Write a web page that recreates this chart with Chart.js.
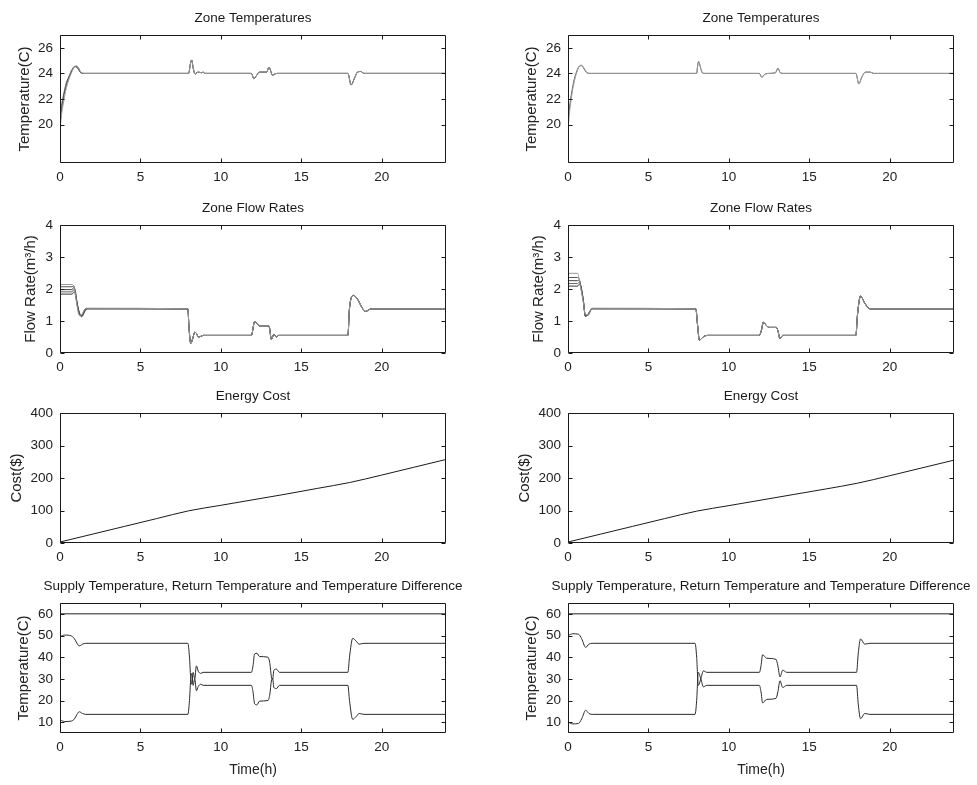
<!DOCTYPE html>
<html>
<head>
<meta charset="utf-8">
<script src="https://cdn.jsdelivr.net/npm/chart.js@4.4.0/dist/chart.umd.min.js"></script>
<style>
  body { margin: 0; background: #fff; }
  #page { position: relative; width: 977px; height: 785px; overflow: hidden; background: #fff; }
  #page canvas { position: absolute; }
</style>
</head>
<body>
<div id="page"></div>
<script>
// ---- tick labels ----
const timeTicks = [0, 5, 10, 15, 20];
const tempTicks = [20, 22, 24, 26];
const flowTicks = [0, 1, 2, 3, 4];
const costTicks = [0, 100, 200, 300, 400];
const supplyTicks = [10, 20, 30, 40, 50, 60];

// ---- zone temperatures, left ----
const tTempL = [0, 0.1, 0.2, 0.3, 0.4, 0.5, 0.6, 0.7, 0.8, 0.9, 1.0, 1.1, 1.2, 1.3, 1.5,
  8.0, 8.1, 8.18, 8.3, 8.4, 8.5, 8.6, 8.8, 8.9, 9.0,
  11.9, 12.05, 12.2, 12.4, 12.7, 12.85, 13.0, 13.1, 13.2, 13.35, 13.5,
  17.9, 18.1, 18.3, 18.5, 18.7, 18.9, 24];
const tempL1 = [20.5, 21.5, 22.2, 22.8, 23.3, 23.6, 23.9, 24.2, 24.4, 24.55, 24.5, 24.4, 24.2, 24.05, 24.0,
  24.0, 24.7, 25.05, 24.3, 23.95, 24.05, 24.1, 24.05, 24.1, 24.0,
  24.0, 23.6, 23.8, 24.1, 24.1, 24.1, 24.5, 24.2, 23.85, 23.95, 24.0,
  24.0, 23.1, 23.6, 24.1, 24.15, 24.0, 24.0];
const tempL2 = [20.0, 21.2, 22.0, 22.6, 23.1, 23.5, 23.8, 24.1, 24.35, 24.5, 24.55, 24.45, 24.25, 24.05, 24.0,
  24.0, 24.7, 25.05, 24.3, 23.95, 24.05, 24.1, 24.05, 24.1, 24.0,
  24.0, 23.6, 23.8, 24.1, 24.1, 24.1, 24.5, 24.2, 23.85, 23.95, 24.0,
  24.0, 23.1, 23.6, 24.1, 24.15, 24.0, 24.0];
const tempL3 = [19.5, 20.8, 21.6, 22.3, 22.9, 23.3, 23.7, 24.0, 24.3, 24.5, 24.6, 24.55, 24.35, 24.1, 24.0,
  24.0, 24.7, 25.05, 24.3, 23.95, 24.05, 24.1, 24.05, 24.1, 24.0,
  24.0, 23.6, 23.8, 24.1, 24.1, 24.1, 24.5, 24.2, 23.85, 23.95, 24.0,
  24.0, 23.1, 23.6, 24.1, 24.15, 24.0, 24.0];

// ---- zone temperatures, right ----
const tTempR = [0, 0.1, 0.2, 0.3, 0.4, 0.5, 0.6, 0.7, 0.8, 0.9, 1.0, 1.1, 1.2, 1.4,
  8.0, 8.05, 8.12, 8.25, 8.35, 8.5, 8.7,
  11.9, 12.05, 12.25, 12.5, 12.9, 13.05, 13.2, 13.4,
  17.9, 18.08, 18.3, 18.5, 18.8, 19.0, 24];
const tempR1 = [20.2, 21.4, 22.3, 23.0, 23.6, 24.0, 24.35, 24.55, 24.6, 24.55, 24.35, 24.15, 24.03, 24.0,
  24.0, 24.5, 24.93, 24.4, 24.05, 24.0, 24.0,
  24.0, 23.7, 23.95, 24.0, 24.05, 24.4, 24.05, 24.0,
  24.0, 23.2, 23.8, 24.1, 24.1, 24.0, 24.0];
const tempR2 = [19.7, 21.0, 22.0, 22.8, 23.4, 23.9, 24.3, 24.55, 24.65, 24.6, 24.4, 24.2, 24.05, 24.0,
  24.0, 24.5, 24.93, 24.4, 24.05, 24.0, 24.0,
  24.0, 23.7, 23.95, 24.0, 24.05, 24.4, 24.05, 24.0,
  24.0, 23.2, 23.8, 24.1, 24.1, 24.0, 24.0];

// ---- zone flow rates, left ----
const tFlowL = [0, 0.75, 0.85, 0.95, 1.05, 1.2, 1.35, 1.55, 1.7,
  7.95, 8.02, 8.13, 8.25, 8.38, 8.5, 8.6, 8.75, 8.9,
  11.9, 12.1, 12.25, 12.4, 12.93, 13.02, 13.14, 13.3, 13.45, 13.6,
  17.9, 18.0, 18.25, 18.5, 18.8, 19.0, 19.35, 24];
const flowTail = [1.38, 0.8, 0.3, 0.45, 0.65, 0.6, 0.5, 0.52, 0.55,
  0.55, 0.98, 0.92, 0.85, 0.85, 0.8, 0.43, 0.58, 0.5, 0.55,
  0.55, 1.4, 1.8, 1.68, 1.4, 1.3, 1.38, 1.38];
const flowL1 = [2.14, 2.14, 2.08, 1.85, 1.5, 1.18, 1.2, 1.38, 1.4].concat(flowTail);
const flowL2 = [2.07, 2.07, 2.1, 1.9, 1.55, 1.2, 1.17, 1.35, 1.39].concat(flowTail);
const flowL3 = [1.98, 1.98, 2.05, 1.95, 1.6, 1.22, 1.15, 1.33, 1.39].concat(flowTail);
const flowL4 = [1.91, 1.91, 1.98, 1.9, 1.62, 1.25, 1.13, 1.3, 1.38].concat(flowTail);
const flowL5 = [1.84, 1.84, 1.9, 1.85, 1.58, 1.28, 1.15, 1.32, 1.38].concat(flowTail);

// ---- zone flow rates, right ----
const tFlowR = [0, 0.6, 0.7, 0.8, 0.95, 1.08, 1.25, 1.5,
  7.95, 8.05, 8.17, 8.3, 8.45, 8.7,
  11.9, 12.02, 12.15, 12.35, 12.5, 12.95, 13.05, 13.18, 13.35,
  17.9, 18.0, 18.19, 18.46, 18.77, 24];
const flowTailR = [1.38, 0.9, 0.4, 0.45, 0.52, 0.55,
  0.55, 0.7, 0.96, 0.85, 0.8, 0.8, 0.7, 0.45, 0.55,
  0.55, 1.2, 1.78, 1.55, 1.38, 1.38];
const flowR1 = [2.49, 2.49, 2.3, 2.0, 1.6, 1.2, 1.2, 1.4].concat(flowTailR);
const flowR2 = [2.36, 2.36, 2.3, 2.05, 1.62, 1.18, 1.18, 1.39].concat(flowTailR);
const flowR3 = [2.26, 2.26, 2.28, 2.1, 1.65, 1.15, 1.2, 1.39].concat(flowTailR);
const flowR4 = [2.17, 2.17, 2.22, 2.1, 1.68, 1.14, 1.22, 1.38].concat(flowTailR);
const flowR5 = [2.09, 2.09, 2.15, 2.05, 1.65, 1.16, 1.22, 1.38].concat(flowTailR);

// ---- energy cost ----
const tCost = [0, 2, 4, 6, 8, 10, 12, 14, 16, 18, 20, 22, 24];
const costL = [3, 27, 51, 75, 99, 116, 133, 150, 168, 186, 209, 233, 257];
const costR = [3, 27, 51, 75, 98, 115, 132, 149, 166, 184, 207, 231, 255];

// ---- supply / return / difference ----
const tFlat = [0, 24];
const supplyTemp = [60, 60];
const tSupL = [0, 0.3, 0.7, 0.9, 1.05, 1.2, 1.4, 1.6,
  7.95, 8.05, 8.12, 8.2, 8.28, 8.38, 8.48, 8.6, 8.75, 8.9,
  11.9, 12.0, 12.1, 12.25, 12.4, 12.93, 13.05, 13.14, 13.22, 13.3, 13.45, 13.65,
  17.9, 18.0, 18.2, 18.4, 18.6, 18.9, 24];
const returnL = [49.5, 50.2, 49.8, 48.5, 46.5, 45.2, 46.0, 46.4,
  46.4, 40, 31, 27.5, 33, 30, 36, 33.5, 32.5, 33,
  33, 36, 41.5, 41.8, 40.3, 40, 37, 31, 29.8, 34, 34.5, 33,
  33, 40, 48.7, 47.5, 46, 46.4, 46.4];
const diffL = [11.0, 10.3, 10.5, 11.5, 13.5, 14.8, 14.0, 13.6,
  13.6, 20, 29, 32.5, 27, 30, 24.5, 26.5, 27.5, 27,
  27, 24, 18.5, 18, 19.7, 20, 23, 29, 30.2, 26, 25.5, 27,
  27, 20, 11.3, 12.5, 14, 13.6, 13.6];
const tSupR = [0, 0.3, 0.65, 0.85, 1.1, 1.3, 1.5,
  7.9, 8.0, 8.1, 8.26, 8.42, 8.63,
  11.9, 12.0, 12.1, 12.35, 12.93, 13.05, 13.18, 13.35, 13.6,
  17.94, 18.05, 18.19, 18.45, 18.77, 24];
const returnR = [50, 50.8, 50.6, 48.5, 44.5, 46, 46.4,
  46.4, 40, 27, 30, 33.7, 33,
  33, 36, 41.1, 39.5, 39, 36, 30.9, 34, 33,
  33, 42, 48.4, 46, 46.4, 46.4];
const diffR = [10, 9.2, 9.4, 11.5, 15.5, 14, 13.6,
  13.6, 20, 33, 30, 26.3, 27,
  27, 24, 18.9, 20.5, 21, 24, 29.1, 26, 27,
  27, 18, 11.6, 14, 13.6, 13.6];

// ---- layout ----
const FONT = "'Liberation Sans', Arial, sans-serif";
const plotW = 386;
const colLeft = [60, 568];
const rows = [
  { top: 35, h: 128 },
  { top: 225, h: 128 },
  { top: 413, h: 130 },
  { top: 603, h: 130 },
];
const padTop = 34;
const padRight = 23;

const zip = (t, v) => t.map((x, i) => ({ x: x, y: v[i] }));
// first dataset is drawn on top, so the light grey settled line goes first
const zoneGreys = ["#9a9a9a", "#555", "#444", "#666", "#3a3a3a"];

// matlab-like box, inward ticks and centred title
const matlabFrame = {
  id: "matlabFrame",
  afterDatasetsDraw(chart, args, opts) {
    const { ctx, chartArea: a, scales } = chart;
    const L = Math.round(a.left) + 0.5, R = Math.round(a.right) - 0.5;
    const T = Math.round(a.top) + 0.5, B = Math.round(a.bottom) - 0.5;
    ctx.save();
    ctx.strokeStyle = "#1a1a1a";
    ctx.lineWidth = 1;
    ctx.beginPath();
    ctx.rect(L, T, R - L, B - T);
    scales.x.ticks.forEach((t) => {
      const px = Math.round(scales.x.getPixelForValue(t.value)) + 0.5;
      ctx.moveTo(px, B); ctx.lineTo(px, B - 4);
      ctx.moveTo(px, T); ctx.lineTo(px, T + 4);
    });
    scales.y.ticks.forEach((t) => {
      const py = Math.round(scales.y.getPixelForValue(t.value)) + 0.5;
      ctx.moveTo(L, py); ctx.lineTo(L + 4, py);
      ctx.moveTo(R, py); ctx.lineTo(R - 4, py);
    });
    ctx.stroke();
    ctx.fillStyle = "#1a1a1a";
    ctx.font = "13.5px " + FONT;
    ctx.textAlign = "center";
    ctx.textBaseline = "middle";
    ctx.fillText(opts.text, (a.left + a.right) / 2, a.top - 17);
    ctx.restore();
  },
};

const panels = [
  { col: 0, row: 0, title: "Zone Temperatures", yTitle: "Temperature(C)", yMin: 17, yMax: 27, yTicks: tempTicks, yw: 44,
    series: [[tTempL, tempL3, "#9a9a9a"], [tTempL, tempL1, "#555"], [tTempL, tempL2, "#3a3a3a"]] },
  { col: 1, row: 0, title: "Zone Temperatures", yTitle: "Temperature(C)", yMin: 17, yMax: 27, yTicks: tempTicks, yw: 45,
    series: [[tTempR, tempR2, "#9a9a9a"], [tTempR, tempR1, "#555"]] },
  { col: 0, row: 1, title: "Zone Flow Rates", yTitle: "Flow Rate(m\u00b3/h)", yMin: 0, yMax: 4, yTicks: flowTicks, yw: 38,
    series: [flowL1, flowL2, flowL3, flowL4, flowL5].map((v, i) => [tFlowL, v, zoneGreys[i]]) },
  { col: 1, row: 1, title: "Zone Flow Rates", yTitle: "Flow Rate(m\u00b3/h)", yMin: 0, yMax: 4, yTicks: flowTicks, yw: 38,
    series: [flowR1, flowR2, flowR3, flowR4, flowR5].map((v, i) => [tFlowR, v, zoneGreys[i]]) },
  { col: 0, row: 2, title: "Energy Cost", yTitle: "Cost($)", yMin: 0, yMax: 400, yTicks: costTicks, yw: 52,
    series: [[tCost, costL, "#1a1a1a"]] },
  { col: 1, row: 2, title: "Energy Cost", yTitle: "Cost($)", yMin: 0, yMax: 400, yTicks: costTicks, yw: 52,
    series: [[tCost, costR, "#1a1a1a"]] },
  { col: 0, row: 3, title: "Supply Temperature, Return Temperature and Temperature Difference", yTitle: "Temperature(C)",
    yMin: 5, yMax: 65, yTicks: supplyTicks, yw: 45, xTitle: "Time(h)",
    series: [[tFlat, supplyTemp, "#222"], [tSupL, returnL, "#2a2a2a"], [tSupL, diffL, "#2a2a2a"]] },
  { col: 1, row: 3, title: "Supply Temperature, Return Temperature and Temperature Difference", yTitle: "Temperature(C)",
    yMin: 5, yMax: 65, yTicks: supplyTicks, yw: 45, xTitle: "Time(h)",
    series: [[tFlat, supplyTemp, "#222"], [tSupR, returnR, "#2a2a2a"], [tSupR, diffR, "#2a2a2a"]] },
];

const page = document.getElementById("page");

panels.forEach((p) => {
  const r = rows[p.row];
  const xh = p.xTitle ? 46 : 26;
  const canvas = document.createElement("canvas");
  const w = p.yw + plotW + padRight;
  const h = padTop + r.h + xh;
  canvas.width = w;
  canvas.height = h;
  canvas.style.left = colLeft[p.col] - p.yw + "px";
  canvas.style.top = r.top - padTop + "px";
  canvas.style.width = w + "px";
  canvas.style.height = h + "px";
  page.appendChild(canvas);

  const tickFont = { family: FONT, size: 13.5 };
  new Chart(canvas, {
    type: "line",
    data: {
      datasets: p.series.map((s) => ({
        data: zip(s[0], s[1]),
        borderColor: s[2],
        borderWidth: 1,
        pointRadius: 0,
        cubicInterpolationMode: "monotone",
      })),
    },
    options: {
      responsive: false,
      animation: false,
      events: [],
      layout: { padding: { top: padTop, right: padRight, left: 0, bottom: 0 } },
      plugins: {
        legend: { display: false },
        tooltip: { enabled: false },
        matlabFrame: { text: p.title },
      },
      scales: {
        x: {
          type: "linear",
          min: 0,
          max: 24,
          grid: { display: false, drawTicks: false },
          border: { display: false },
          afterBuildTicks: (s) => { s.ticks = timeTicks.map((v) => ({ value: v })); },
          afterFit: (s) => { s.height = xh; },
          ticks: { autoSkip: false, maxRotation: 0, padding: 6, color: "#222", font: tickFont },
          title: { display: !!p.xTitle, text: p.xTitle || "", padding: 0, color: "#222", font: { family: FONT, size: 14 } },
        },
        y: {
          type: "linear",
          min: p.yMin,
          max: p.yMax,
          grid: { display: false, drawTicks: false },
          border: { display: false },
          afterBuildTicks: (s) => { s.ticks = p.yTicks.map((v) => ({ value: v })); },
          afterFit: (s) => { s.width = p.yw; },
          ticks: { autoSkip: false, padding: 7, color: "#222", font: tickFont },
          title: { display: true, text: p.yTitle, padding: 0, color: "#222", font: { family: FONT, size: 15 } },
        },
      },
    },
    plugins: [matlabFrame],
  });
});
</script>
</body>
</html>
